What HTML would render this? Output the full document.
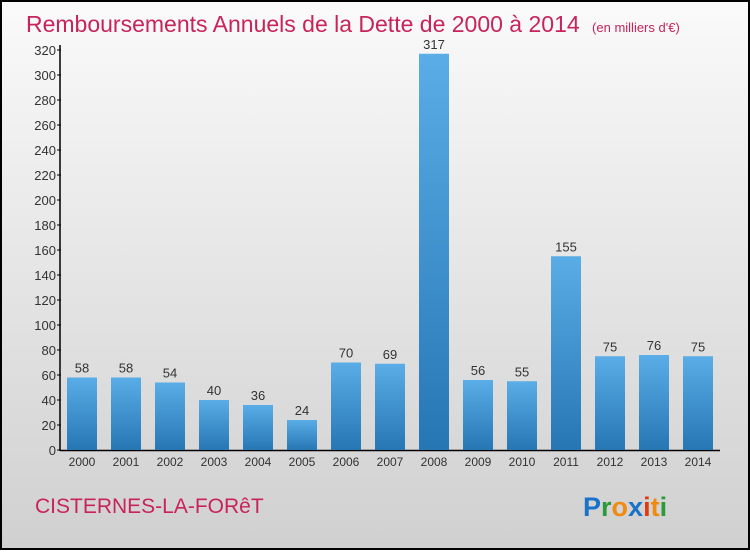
<!DOCTYPE html>
<html><head><meta charset="utf-8"><style>
html,body{margin:0;padding:0}
body{width:750px;height:550px;overflow:hidden;font-family:"Liberation Sans",sans-serif}
#frame{position:absolute;left:0;top:0;width:746px;height:546px;border:2px solid #000;background:linear-gradient(#fafafa,#d0d0d0)}
</style></head><body>
<div id="frame">
<svg width="746" height="546" viewBox="2 2 746 546" xmlns="http://www.w3.org/2000/svg">
<defs><linearGradient id="bg" x1="0" y1="0" x2="0" y2="1"><stop offset="0" stop-color="#5aade6"/><stop offset="1" stop-color="#2676b4"/></linearGradient></defs>
<text x="26" y="32" font-size="23" fill="#c8245a" font-weight="300">Remboursements Annuels de la Dette de 2000 à 2014 <tspan font-size="13" dx="6">(en milliers d'€)</tspan></text>
<g id="axes"></g><g id="bars"></g>
<text x="35" y="513" font-size="21" fill="#c8245a">CISTERNES-LA-FORêT</text>
<g font-size="27" font-weight="bold" font-family="Liberation Sans, sans-serif">
<text x="583" y="516"><tspan fill="#1a73c8">P</tspan><tspan fill="#2a9a3a">r</tspan><tspan fill="#f08a10">o</tspan><tspan fill="#1a73c8">x</tspan><tspan fill="#e03a10">i</tspan><tspan fill="#f08a10">t</tspan><tspan fill="#2a9a3a">i</tspan></text></g>
</svg></div>
<script>
const years=["2000","2001","2002","2003","2004","2005","2006","2007","2008","2009","2010","2011","2012","2013","2014"];
const values=[58,58,54,40,36,24,70,69,317,56,55,155,75,76,75];
const yTicks=[0,20,40,60,80,100,120,140,160,180,200,220,240,260,280,300,320];
const NS="http://www.w3.org/2000/svg";
function y(v){return 450-v*1.25;}
function x(i){return 82+i*44;}
function mk(t,a,p){const e=document.createElementNS(NS,t);for(const k in a)e.setAttribute(k,a[k]);p.appendChild(e);return e;}
const ax=document.getElementById('axes'),bs=document.getElementById('bars');
let l=mk('line',{x1:60,y1:45,x2:60,y2:451,stroke:'#000','stroke-width':1.5},ax);


l=mk('line',{x1:60,y1:450.5,x2:720,y2:450.5,stroke:'#000','stroke-width':1.5},ax);


yTicks.forEach(v=>{
 const t=mk('line',{x1:57,x2:61,y1:y(v),y2:y(v),stroke:'#000'},ax);
 
 
 const tx=mk('text',{x:56,y:y(v)+5,'font-size':13,fill:'#333','text-anchor':'end'},ax);
 tx.textContent=v;
 
 
});
years.forEach((yr,i)=>{
 const r=mk('rect',{x:x(i)-15,y:y(values[i]),width:30,height:values[i]*1.25,fill:'url(#bg)'},bs);
 
 
 const v=mk('text',{x:x(i),y:y(values[i])-5,'font-size':13,fill:'#333','text-anchor':'middle'},bs);
 v.textContent=values[i];
 
 
 const xl=mk('text',{x:x(i),y:466,'font-size':12,fill:'#333','text-anchor':'middle'},bs);
 xl.textContent=yr;
 
 
});
</script>
</body></html>
